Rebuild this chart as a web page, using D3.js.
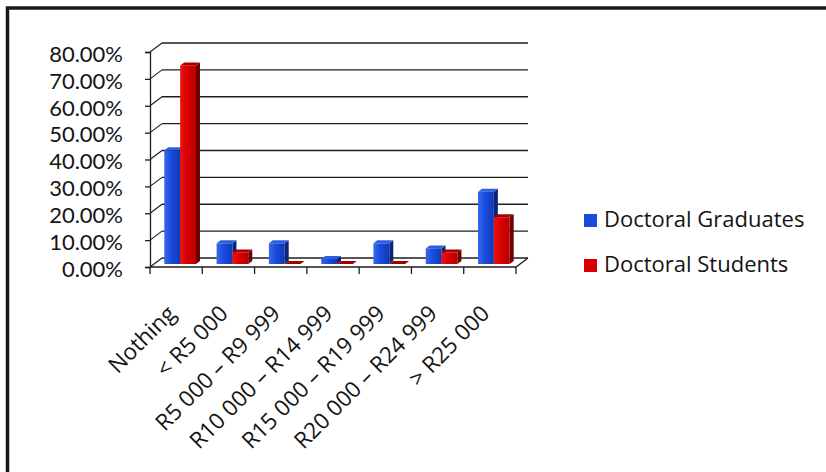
<!DOCTYPE html>
<html>
<head>
<meta charset="utf-8">
<script src="https://cdn.jsdelivr.net/npm/d3@7"></script>
<style>
  html, body { margin: 0; padding: 0; background: #fff; }
  svg { display: block; }
  text { font-family: "Open Sans", "Liberation Sans", sans-serif; fill: #141414; }
  .tick text { font-family: "Lato", "Open Sans", sans-serif; }
</style>
</head>
<body>
<svg id="chart" width="826" height="472"></svg>
<script>
// Monthly income categories
const categories = ["Nothing", "< R5 000", "R5 000 – R9 999", "R10 000 – R14 999",
  "R15 000 – R19 999", "R20 000 – R24 999", "> R25 000"];
const seriesNames = ["Doctoral Graduates", "Doctoral Students"];
// Share of respondents per category
const graduates = [0.423, 0.077, 0.077, 0.019, 0.077, 0.058, 0.269];
const students  = [0.739, 0.043, 0.0, 0.0, 0.0, 0.043, 0.174];
const yTicks = [0, 0.1, 0.2, 0.3, 0.4, 0.5, 0.6, 0.7, 0.8];

const svg = d3.select("#chart");
const W = 826, H = 472;

// 3D box: front plane plus a depth vector towards the back wall
const depth = { dx: 12, dy: -9 };
const barFront = { dx: 4, dy: -3 };   // bars sit in the middle third of the depth
const barDepth = { dx: 4, dy: -3 };

const x = d3.scaleBand().domain(categories).range([150, 516]).padding(0);
const xs = d3.scaleBand().domain(seriesNames).range([0, x.bandwidth()])
  .paddingInner(0).paddingOuter(0.65);
const y = d3.scaleLinear().domain([0, 0.8]).range([267, 52]);

const ink = "#1e1e1e";

// outer frame (top and left edges)
svg.append("path")
  .attr("d", `M7.5,${H} L7.5,8 L${W},8`)
  .attr("fill", "none").attr("stroke", "#1a1a1a").attr("stroke-width", 3.5);

const grid = svg.append("g");
// back wall gridlines and side wall diagonals
yTicks.forEach(t => {
  const yy = y(t);
  grid.append("line")
    .attr("x1", 150 + depth.dx).attr("y1", yy + depth.dy)
    .attr("x2", 516 + depth.dx).attr("y2", yy + depth.dy)
    .attr("stroke", ink).attr("stroke-width", 1.3);
  grid.append("line")
    .attr("x1", 150).attr("y1", yy)
    .attr("x2", 150 + depth.dx).attr("y2", yy + depth.dy)
    .attr("stroke", ink).attr("stroke-width", 1.1);
});
// floor front edge and right edge
grid.append("path")
  .attr("d", `M150,${y(0)} L516,${y(0)} L${516 + depth.dx},${y(0) + depth.dy}`)
  .attr("fill", "none").attr("stroke", ink).attr("stroke-width", 1.3);

// value axis
const yAxis = d3.axisLeft(y).tickValues(yTicks).tickFormat(d3.format(".2%"))
  .tickSize(5).tickPadding(22);
const yg = svg.append("g").attr("transform", "translate(150,0)").call(yAxis);
yg.select(".domain").attr("stroke", ink).attr("stroke-width", 1.3);
yg.selectAll(".tick line").attr("stroke", ink).attr("stroke-width", 1.3);
yg.selectAll(".tick text")
  .style("font-size", "22px")
  .attr("fill", "#141414").attr("dy", "0.42em");

// category ticks under the floor
const bounds = categories.map(c => x(c)).concat([x.range()[1]]);
svg.append("g").selectAll("line").data(bounds).join("line")
  .attr("x1", d => d).attr("x2", d => d)
  .attr("y1", y(0)).attr("y2", y(0) + 7)
  .attr("stroke", ink).attr("stroke-width", 1.3);

// gradients for the bar faces
const defs = svg.append("defs");
const palette = {
  "Doctoral Graduates": { l: "#3568ec", m: "#1a4bdb", r: "#0f38b8", side: "#0a2578", top: "#2f5fe0" },
  "Doctoral Students":  { l: "#ec1212", m: "#d80000", r: "#b80000", side: "#6e0000", top: "#a30000" }
};
seriesNames.forEach((s, i) => {
  const g = defs.append("linearGradient").attr("id", "face" + i)
    .attr("x1", "0%").attr("x2", "100%").attr("y1", "0%").attr("y2", "0%");
  g.append("stop").attr("offset", "0%").attr("stop-color", palette[s].l);
  g.append("stop").attr("offset", "45%").attr("stop-color", palette[s].m);
  g.append("stop").attr("offset", "100%").attr("stop-color", palette[s].r);
});

// bars, drawn left to right so each front face hides its neighbour's side
const bars = svg.append("g");
const seriesData = [graduates, students];
categories.forEach((c, ci) => {
  seriesNames.forEach((s, si) => {
    const v = seriesData[si][ci];
    const bw = xs.bandwidth();
    const x0 = x(c) + xs(s) + barFront.dx;
    const x1 = x0 + bw;
    const yb = y(0) + barFront.dy;
    const yt = y(v) + barFront.dy;
    const dx = barDepth.dx, dy = barDepth.dy;
    const col = palette[s];
    // right side
    bars.append("path")
      .attr("d", `M${x1},${yt} L${x1 + dx},${yt + dy} L${x1 + dx},${yb + dy} L${x1},${yb} Z`)
      .attr("fill", col.side);
    // top
    bars.append("path")
      .attr("d", `M${x0},${yt} L${x0 + dx},${yt + dy} L${x1 + dx},${yt + dy} L${x1},${yt} Z`)
      .attr("fill", col.top);
    // front
    bars.append("rect")
      .attr("x", x0).attr("y", yt)
      .attr("width", bw).attr("height", Math.max(0, yb - yt))
      .attr("fill", `url(#face${si})`);
  });
});

// rotated category labels
svg.append("g").selectAll("text").data(categories).join("text")
  .attr("transform", d => `translate(${x(d) + x.bandwidth() / 2 + 1},315) rotate(-45)`)
  .attr("text-anchor", "end")
  .attr("font-size", 22.5)
  .text(d => d);

// legend
const legend = svg.append("g");
seriesNames.forEach((s, i) => {
  const ly = 214 + i * 45;
  legend.append("rect").attr("x", 584).attr("y", ly)
    .attr("width", 13).attr("height", 13)
    .attr("fill", palette[s].m);
  legend.append("text").attr("x", 604).attr("y", ly + 13)
    .attr("font-size", 22).text(s);
});
</script>
</body>
</html>
